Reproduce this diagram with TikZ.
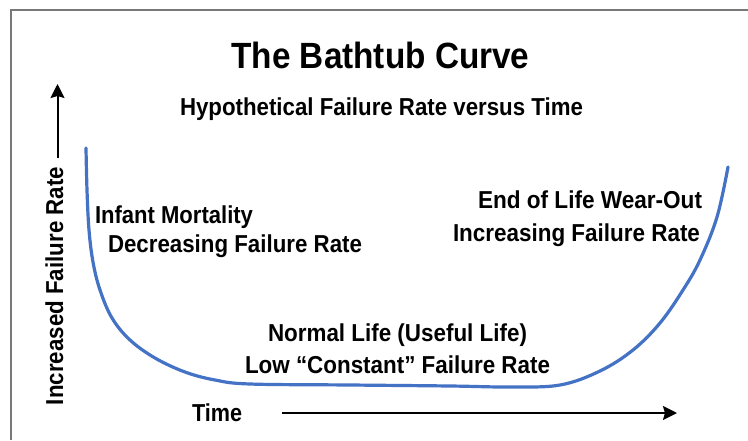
\documentclass[tikz,border=0pt]{standalone}
\usepackage{fontspec}
\setmainfont{Liberation Sans}
\usetikzlibrary{arrows.meta}
\definecolor{curveblue}{HTML}{4472C4}
\definecolor{framegray}{HTML}{787878}
\newcommand{\fitto}[2]{\resizebox{#1}{\height}{#2}}
\begin{document}
\begin{tikzpicture}[x=1pt,y=-1pt,
  lbl/.style={inner sep=0pt, outer sep=0pt, anchor=base west, font=\fontsize{24.5}{29}\selectfont\bfseries},
  ttl/.style={lbl, font=\fontsize{36.5}{42}\selectfont\bfseries},
  axisarrow/.style={line width=2pt, -{Stealth[length=14pt,width=14pt,inset=2pt]}},
  tub/.style={curveblue, line width=3.2pt, line cap=round, line join=round}]
\useasboundingbox (0,0) rectangle (748,440);
\fill[white] (0,0) rectangle (748,440);
\draw[framegray, line width=2.6pt] (748,10) -- (11,10) -- (11,440);

\node[ttl] (title) at (231.5,68) {\fitto{298pt}{The Bathtub Curve}};
\node[lbl] (sub) at (180,115) {\fitto{403pt}{Hypothetical Failure Rate versus Time}};
\node[lbl] (inf1) at (95,223) {\fitto{158pt}{Infant Mortality}};
\node[lbl] (inf2) at (108,252) {\fitto{254pt}{Decreasing Failure Rate}};
\node[lbl] (end1) at (478,208) {\fitto{224pt}{End of Life Wear-Out}};
\node[lbl] (end2) at (453,241) {\fitto{247pt}{Increasing Failure Rate}};
\node[lbl] (norm1) at (268,341) {\fitto{259pt}{Normal Life (Useful Life)}};
\node[lbl] (norm2) at (245,373) {\fitto{305pt}{Low “Constant” Failure Rate}};
\node[lbl] (time) at (192,421) {\fitto{50pt}{Time}};
\node[lbl, rotate=90] (yax) at (63,405) {\fitto{238pt}{Increased Failure Rate}};

\coordinate (ybot) at (57.5,158);
\coordinate (ytop) at (57.5,84);
\draw[axisarrow] (ybot) -- (ytop);
\coordinate (xl) at (282,413);
\coordinate (xr) at (677,413);
\draw[axisarrow] (xl) -- (xr);

\draw[tub] plot[smooth, tension=0.6] coordinates {
  (86,148) (87,190) (89,230) (93,262) (100,290) (112,318) (130,340)
  (155,358) (185,372) (215,380) (250,384) (350,385) (450,386) (510,387)
  (560,385) (600,371) (633,350) (660,323) (683,290) (700,260) (717,217) (728,167)};
\end{tikzpicture}
\end{document}
